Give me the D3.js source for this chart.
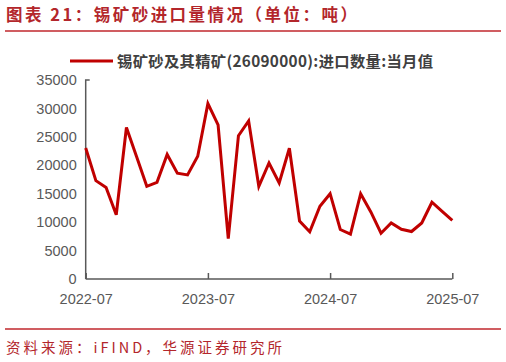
<!DOCTYPE html>
<html><head><meta charset="utf-8">
<script src="https://cdn.jsdelivr.net/npm/d3@7"></script>
<style>body{margin:0;background:#fff}svg{display:block}</style>
</head><body><svg id="c" width="506" height="362"></svg>
<script>
const months = ["2022-07","2022-08","2022-09","2022-10","2022-11","2022-12","2023-01","2023-02","2023-03","2023-04","2023-05","2023-06","2023-07","2023-08","2023-09","2023-10","2023-11","2023-12","2024-01","2024-02","2024-03","2024-04","2024-05","2024-06","2024-07","2024-08","2024-09","2024-10","2024-11","2024-12","2025-01","2025-02","2025-03","2025-04","2025-05","2025-06","2025-07"];
const values = [23050,17300,16100,11300,26650,21500,16300,17000,21900,18600,18300,21600,30850,27100,7100,25200,27800,16300,20400,16900,23000,10200,8300,12800,15000,8700,7900,15000,11800,8050,9850,8750,8350,9850,13500,11900,10300];
const yTicks = [0,5000,10000,15000,20000,25000,30000,35000];
const xTickLabels = ["2022-07","2023-07","2024-07","2025-07"];
const seriesName = "锡矿砂及其精矿(26090000):进口数量:当月值";
const title = "图表 21：锡矿砂进口量情况（单位：吨）";
const source = "资料来源：iFIND，华源证券研究所";

const svg = d3.select("#c");
const red = "#c00000";
const grey = "#595959";

svg.append("text").attr("x",6).attr("y",21).attr("fill","#b3262b")
  .attr("font-family","'Noto Sans CJK SC'").attr("font-weight","bold").attr("font-size",16.5)
  .attr("textLength",351).attr("lengthAdjust","spacing").text(title);
svg.append("line").attr("x1",5).attr("x2",501).attr("y1",31).attr("y2",31).attr("stroke","#c0272d").attr("stroke-width",1.5);

const x = d3.scalePoint().domain(months).range([85.7,452.3]);
const y = d3.scaleLinear().domain([0,35000]).range([279,80]);

// legend
svg.append("line").attr("x1",70).attr("x2",113).attr("y1",61).attr("y2",61).attr("stroke",red).attr("stroke-width",3);
svg.append("text").attr("x",117).attr("y",67).attr("fill","#404040")
  .attr("font-family","'Noto Sans CJK SC', 'Liberation Sans'").attr("font-weight","bold").attr("font-size",15.3)
  .attr("textLength",316).attr("lengthAdjust","spacing").text(seriesName);

// y axis
const ya = svg.append("g").attr("transform","translate(85.7,0)")
  .call(d3.axisLeft(y).tickValues(yTicks).tickSize(0).tickPadding(9).tickFormat(d3.format("d")));
ya.select(".domain").attr("stroke",grey).attr("stroke-width",1.5).attr("d","M4,80H0V279");
ya.selectAll("text").attr("fill",grey).attr("font-family","'Liberation Sans', Arial").attr("font-size",14.5);

// x axis
const xa = svg.append("g").attr("transform","translate(0,279)")
  .call(d3.axisBottom(x).tickValues(xTickLabels).tickSize(-6).tickPadding(15));
xa.select(".domain").attr("stroke",grey).attr("stroke-width",1.5).attr("d","M85.7,0H452.3");
xa.selectAll(".tick line").attr("stroke",grey).attr("stroke-width",1.5);
xa.selectAll("text").attr("fill",grey).attr("font-family","'Liberation Sans', Arial").attr("font-size",14.5);

// line
svg.append("path").datum(values.map((v,i)=>[months[i],v]))
  .attr("fill","none").attr("stroke",red).attr("stroke-width",3).attr("stroke-linejoin","miter")
  .attr("d", d3.line().x(d=>x(d[0])).y(d=>y(d[1])));

svg.append("line").attr("x1",5).attr("x2",501).attr("y1",329).attr("y2",329).attr("stroke","#c0272d").attr("stroke-width",1.5);
svg.append("text").attr("x",6).attr("y",353).attr("fill","#b3262b")
  .attr("font-family","'Noto Sans CJK SC'").attr("font-size",14.5)
  .attr("textLength",276).attr("lengthAdjust","spacing").text(source);
</script></body></html>
